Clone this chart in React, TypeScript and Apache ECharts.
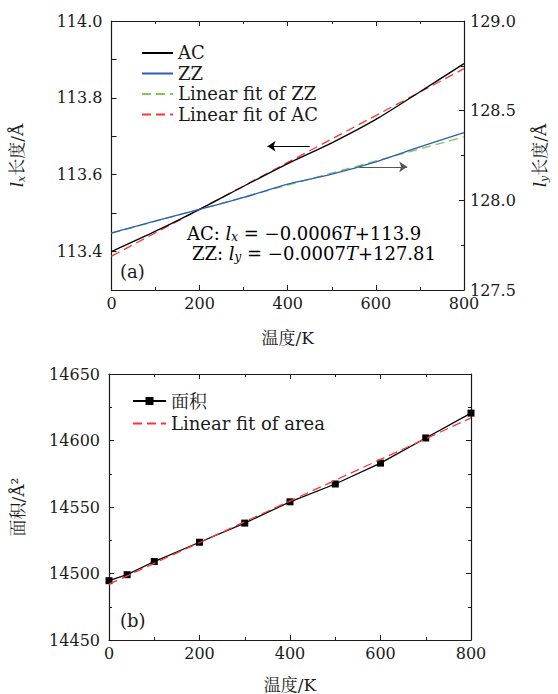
import React, { useEffect, useRef } from 'react';
import * as echarts from 'echarts';

// ---- data ----
const temps = [0, 100, 200, 300, 400, 500, 600, 700, 800];
const acLength = [113.4, 113.453, 113.51, 113.57, 113.629, 113.683, 113.744, 113.816, 113.889];
const zzLength = [127.819, 127.885, 127.949, 128.016, 128.09, 128.146, 128.215, 128.298, 128.378];
const fitTemps = [0, 800];
const acFit = [113.388, 113.876];
const zzFit = [127.816, 128.354];

const areaTemps = [0, 40, 100, 200, 300, 400, 500, 600, 700, 800];
const areaValues = [14494.6, 14499.1, 14509.0, 14523.5, 14537.9, 14553.9, 14567.3, 14583.0, 14601.9, 14620.6];
const areaFit = [14492, 14617];

const leftArrow = { from: [450, 113.674], to: [354, 113.674] };
const rightArrow = { from: [562, 128.187], to: [671, 128.187] };

const legendTop = ['AC', 'ZZ', 'Linear fit of ZZ', 'Linear fit of AC'];
const legendBottom = ['面积', 'Linear fit of area'];

const SERIF = "'DejaVu Serif', 'Noto Serif CJK SC', 'Noto Sans CJK SC', serif";
const INK = '#1a1a1a';

const pairs = (xs: number[], ys: number[]) => xs.map((x, i) => [x, ys[i]]);

const axisLine = { show: true, onZero: false, lineStyle: { color: INK, width: 1.2 } };
const tick = { show: true, inside: true, length: 5, lineStyle: { color: INK, width: 1 } };
const minor = { show: true, splitNumber: 2, length: 3, lineStyle: { color: INK, width: 1 } };
const label = { color: INK, fontSize: 16, fontFamily: SERIF };

const nameRich = {
  i: { fontStyle: 'italic', fontSize: 17, fontFamily: SERIF, lineHeight: 20, color: INK },
  s: { fontStyle: 'italic', fontSize: 11, fontFamily: SERIF, lineHeight: 11, verticalAlign: 'bottom', color: INK },
  n: { fontSize: 17, fontFamily: SERIF, lineHeight: 20, color: INK },
};

const eqRich = {
  r: { fontSize: 18, fontFamily: SERIF, lineHeight: 20, color: INK },
  i: { fontSize: 18, fontStyle: 'italic', fontFamily: SERIF, lineHeight: 20, color: INK },
  s: { fontSize: 12, fontStyle: 'italic', fontFamily: SERIF, lineHeight: 12, verticalAlign: 'bottom', color: INK },
};

const hiddenMarker = { color: 'rgba(0,0,0,0)', borderColor: 'rgba(0,0,0,0)', borderWidth: 0 };

export default function App() {
  const ref = useRef<HTMLDivElement>(null);

  useEffect(() => {
    document.body.style.margin = '0';
    const chart = echarts.init(ref.current!, null, { renderer: 'svg' });

    const xBase = (grid: number, pos: 'bottom' | 'top', withLabels: boolean, gap: number) => ({
      type: 'value',
      gridIndex: grid,
      position: pos,
      min: 0,
      max: 800,
      interval: 200,
      axisLine,
      axisTick: tick,
      minorTick: minor,
      splitLine: { show: false },
      axisLabel: { ...label, show: withLabels, margin: 5 },
      ...(withLabels
        ? {
            name: '温度/K',
            nameLocation: 'middle',
            nameGap: gap,
            nameTextStyle: { fontSize: 17, fontFamily: SERIF, color: INK },
          }
        : {}),
    });

    const option: any = {
      animation: false,
      backgroundColor: '#ffffff',
      grid: [
        { left: 109, top: 21, width: 362, height: 269 },
        { left: 109, top: 374, width: 362, height: 267 },
      ],
      xAxis: [
        xBase(0, 'bottom', true, 39),
        xBase(0, 'top', false, 0),
        xBase(1, 'bottom', true, 36),
        xBase(1, 'top', false, 0),
      ],
      yAxis: [
        {
          type: 'value',
          gridIndex: 0,
          position: 'left',
          min: 113.3,
          max: 114.0,
          interval: 0.1,
          axisLine,
          axisTick: tick,
          splitLine: { show: false },
          axisLabel: {
            ...label,
            margin: 9,
            formatter: (v: number) => (Math.round(v * 10) % 2 === 0 ? v.toFixed(1) : ''),
          },
          name: '{i|l}{s|x}{n|长度/Å}',
          nameLocation: 'middle',
          nameRotate: 90,
          nameGap: 85,
          nameTextStyle: { rich: nameRich },
        },
        {
          type: 'value',
          gridIndex: 0,
          position: 'right',
          min: 127.5,
          max: 129.0,
          interval: 0.5,
          axisLine,
          axisTick: tick,
          minorTick: minor,
          splitLine: { show: false },
          axisLabel: { ...label, margin: 6, formatter: (v: number) => v.toFixed(1) },
          name: '{i|l}{s|y}{n|长度/Å}',
          nameLocation: 'middle',
          nameRotate: 90,
          nameGap: 66,
          nameTextStyle: { rich: nameRich },
        },
        {
          type: 'value',
          gridIndex: 1,
          position: 'left',
          min: 14450,
          max: 14650,
          interval: 50,
          axisLine,
          axisTick: tick,
          minorTick: minor,
          splitLine: { show: false },
          axisLabel: { ...label, margin: 9, formatter: (v: number) => String(v) },
          name: '{n|面积/Å²}',
          nameLocation: 'middle',
          nameRotate: 90,
          nameGap: 81,
          nameTextStyle: { rich: nameRich },
        },
        {
          type: 'value',
          gridIndex: 1,
          position: 'right',
          min: 14450,
          max: 14650,
          interval: 50,
          axisLine,
          axisTick: tick,
          minorTick: minor,
          splitLine: { show: false },
          axisLabel: { show: false },
        },
      ],
      legend: [
        {
          data: legendTop.map((n) => ({ name: n, itemStyle: hiddenMarker })),
          orient: 'vertical',
          left: 141,
          top: 44,
          itemWidth: 31,
          itemHeight: 12,
          itemGap: 2.5,
          padding: 0,
          textStyle: { fontSize: 18, fontFamily: SERIF, color: INK, lineHeight: 14 },
        },
        {
          data: [
            { name: legendBottom[0] },
            { name: legendBottom[1], itemStyle: hiddenMarker },
          ],
          orient: 'vertical',
          left: 132,
          top: 392,
          itemWidth: 33,
          itemHeight: 10,
          itemGap: 4.6,
          padding: 0,
          textStyle: { fontSize: 18, fontFamily: SERIF, color: INK, lineHeight: 18 },
        },
      ],
      graphic: [
        {
          type: 'text',
          x: 187,
          y: 233,
          style: { text: '{r|AC: }{i|l}{s|x}{r| = −0.0006}{i|T}{r|+113.9}', rich: eqRich, verticalAlign: 'middle' },
        },
        {
          type: 'text',
          x: 192,
          y: 253,
          style: { text: '{r|ZZ: }{i|l}{s|y}{r| = −0.0007}{i|T}{r|+127.81}', rich: eqRich, verticalAlign: 'middle' },
        },
        {
          type: 'text',
          x: 120,
          y: 271,
          style: { text: '(a)', fontSize: 18, fontFamily: SERIF, fill: INK, verticalAlign: 'middle' },
        },
        {
          type: 'text',
          x: 120,
          y: 620,
          style: { text: '(b)', fontSize: 18, fontFamily: SERIF, fill: INK, verticalAlign: 'middle' },
        },
      ],
      series: [
        {
          name: 'AC',
          type: 'line',
          xAxisIndex: 0,
          yAxisIndex: 0,
          data: pairs(temps, acLength),
          symbol: 'none',
          smooth: 0.3,
          lineStyle: { color: '#000000', width: 1.3 },
          itemStyle: { color: '#000000' },
          z: 3,
          markLine: {
            silent: true,
            symbol: ['none', 'arrow'],
            symbolSize: 8,
            label: { show: false },
            lineStyle: { color: '#000000', width: 1, type: 'solid' },
            data: [[{ coord: leftArrow.from }, { coord: leftArrow.to }]],
          },
        },
        {
          name: 'ZZ',
          type: 'line',
          xAxisIndex: 0,
          yAxisIndex: 1,
          data: pairs(temps, zzLength),
          symbol: 'none',
          smooth: 0.3,
          lineStyle: { color: '#2a5cb8', width: 1.3 },
          itemStyle: { color: '#2a5cb8' },
          z: 3,
          markLine: {
            silent: true,
            symbol: ['none', 'arrow'],
            symbolSize: 8,
            label: { show: false },
            lineStyle: { color: '#555555', width: 1, type: 'solid' },
            data: [[{ coord: rightArrow.from }, { coord: rightArrow.to }]],
          },
        },
        {
          name: 'Linear fit of ZZ',
          type: 'line',
          xAxisIndex: 0,
          yAxisIndex: 1,
          data: pairs(fitTemps, zzFit),
          symbol: 'none',
          lineStyle: { color: '#7ccc4e', width: 1.3, type: [9, 5] },
          itemStyle: { color: '#7ccc4e' },
          z: 2,
        },
        {
          name: 'Linear fit of AC',
          type: 'line',
          xAxisIndex: 0,
          yAxisIndex: 0,
          data: pairs(fitTemps, acFit),
          symbol: 'none',
          lineStyle: { color: '#ff3535', width: 1.3, type: [9, 5] },
          itemStyle: { color: '#ff3535' },
          z: 2,
        },
        {
          name: '面积',
          type: 'line',
          xAxisIndex: 2,
          yAxisIndex: 2,
          data: pairs(areaTemps, areaValues),
          symbol: 'rect',
          symbolSize: 7,
          lineStyle: { color: '#000000', width: 1.3 },
          itemStyle: { color: '#000000' },
          z: 3,
        },
        {
          name: 'Linear fit of area',
          type: 'line',
          xAxisIndex: 2,
          yAxisIndex: 2,
          data: pairs(fitTemps, areaFit),
          symbol: 'none',
          lineStyle: { color: '#ff3535', width: 1.3, type: [9, 5] },
          itemStyle: { color: '#ff3535' },
          z: 4,
        },
      ],
    };

    chart.setOption(option);
    return () => chart.dispose();
  }, []);

  return <div ref={ref} style={{ width: 558, height: 694 }} />;
}
